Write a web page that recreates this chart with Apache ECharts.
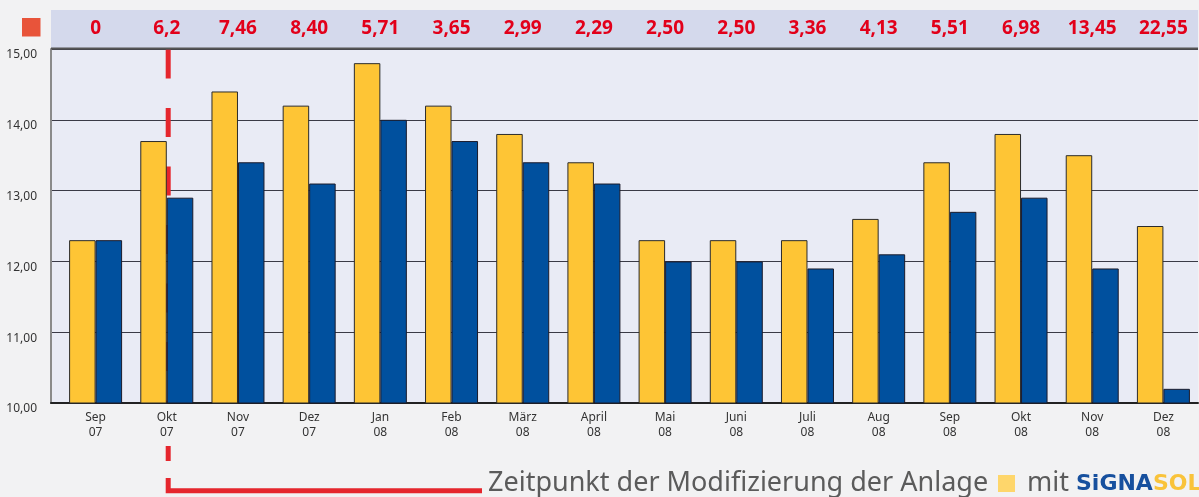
<!DOCTYPE html>
<html>
<head>
<meta charset="utf-8">
<script src="https://cdn.jsdelivr.net/npm/echarts@6/dist/echarts.min.js"></script>
<style>
html,body{margin:0;padding:0;background:#f2f2f3;}
#chart{width:1199px;height:497px;}
</style>
</head>
<body>
<div id="chart"></div>
<script>
const months = ['Sep','Okt','Nov','Dez','Jan','Feb','März','April','Mai','Juni','Juli','Aug','Sep','Okt','Nov','Dez'];
const years = ['07','07','07','07','08','08','08','08','08','08','08','08','08','08','08','08'];
const yellowValues = [12.3,13.7,14.4,14.2,14.8,14.2,13.8,13.4,12.3,12.3,12.3,12.6,13.4,13.8,13.5,12.5];
const blueValues = [12.3,12.9,13.4,13.1,14.0,13.7,13.4,13.1,12.0,12.0,11.9,12.1,12.7,12.9,11.9,10.2];
const topValues = ['0','6,2','7,46','8,40','5,71','3,65','2,99','2,29','2,50','2,50','3,36','4,13','5,51','6,98','13,45','22,55'];
const yMin = 10, yMax = 15, yStep = 1;
const legendText = 'Zeitpunkt der Modifizierung der Anlage';
const legendMit = 'mit';
const logoA = 'SiGNA', logoB = 'SOL';

const idx = months.map((m, i) => String(i));
const chart = echarts.init(document.getElementById('chart'), null, {renderer: 'canvas'});
const RED = '#e5262d';
const FONT = '"Noto Sans", "Open Sans", sans-serif';

chart.setOption({
  backgroundColor: '#f2f2f3',
  animation: false,
  grid: [
    {left: 51, right: 1, top: 49, bottom: 94, show: true, backgroundColor: '#e9ebf5', borderWidth: 0},
    {left: 60, right: 0, top: 49, bottom: 94}
  ],
  xAxis: [
    {type: 'category', gridIndex: 0, data: idx, boundaryGap: true,
     axisLine: {show: true, lineStyle: {color: '#222', width: 2}},
     axisTick: {show: false}, axisLabel: {show: false}, splitLine: {show: false}},
    {type: 'category', gridIndex: 1, data: idx, position: 'bottom',
     axisLine: {show: false}, axisTick: {show: false},
     axisLabel: {show: true, interval: 0, margin: 7, color: '#333', fontSize: 12, lineHeight: 15,
       fontFamily: FONT, formatter: (v, i) => months[i] + '\n' + years[i]}},
    {type: 'category', gridIndex: 1, data: idx, position: 'top',
     axisLine: {show: false}, axisTick: {show: false},
     axisLabel: {show: true, interval: 0, margin: 20, verticalAlign: 'middle', color: '#e2001a', fontSize: 19,
       fontWeight: 'bold', fontFamily: FONT, formatter: (v, i) => topValues[i]}}
  ],
  yAxis: [
    {type: 'value', gridIndex: 0, min: yMin, max: yMax, interval: yStep,
     axisLine: {show: true, lineStyle: {color: '#8a8a8a', width: 2}},
     axisTick: {show: false},
     splitLine: {show: true, lineStyle: {color: '#3a3a46', width: 1.2}},
     axisLabel: {color: '#333', fontSize: 12, fontFamily: FONT, margin: 14, verticalAlign: 'top', lineHeight: 12,
       formatter: v => v.toFixed(2).replace('.', ',')}},
    {type: 'value', gridIndex: 1, min: yMin, max: yMax, interval: yStep, show: false}
  ],
  series: [
    {type: 'bar', xAxisIndex: 1, yAxisIndex: 1, data: yellowValues, barWidth: 26.5, barGap: '0%', z: 3,
     itemStyle: {color: '#fec535', borderColor: '#2b2b2b', borderWidth: 1}},
    {type: 'bar', xAxisIndex: 1, yAxisIndex: 1, data: blueValues, barWidth: 26.5, barGap: '0%', z: 3,
     itemStyle: {color: '#00509e', borderColor: '#1b1b2b', borderWidth: 1}}
  ],
  graphic: [
    {type: 'rect', z: 0, shape: {x: 51, y: 10, width: 1147, height: 38}, style: {fill: '#d4d9ec'}},
    {type: 'line', z: 5, shape: {x1: 51, y1: 48.5, x2: 1198, y2: 48.5}, style: {stroke: '#555', lineWidth: 2}},
    {type: 'rect', z: 5, shape: {x: 22, y: 18, width: 18.5, height: 18.5}, style: {fill: '#e8543a'}},
    {type: 'line', z: 2, shape: {x1: 168.2, y1: 49.5, x2: 168.2, y2: 402}, style: {stroke: RED, lineWidth: 5, lineDash: [29, 29.5]}},
    {type: 'rect', z: 2, shape: {x: 165.7, y: 446, width: 5, height: 15}, style: {fill: RED}},
    {type: 'polyline', z: 2, shape: {points: [[168.2, 478], [168.2, 490.8], [482, 490.8]]}, style: {stroke: RED, lineWidth: 5, fill: null}},
    {type: 'text', z: 5, x: 488, y: 483, style: {text: legendText, fill: '#5b5b5b', font: '27px ' + FONT, verticalAlign: 'middle', align: 'left'}},
    {type: 'rect', z: 5, shape: {x: 998, y: 475, width: 17, height: 17}, style: {fill: '#fed66b'}},
    {type: 'text', z: 5, x: 1027, y: 483, style: {text: legendMit, fill: '#5b5b5b', font: '27px ' + FONT, verticalAlign: 'middle', align: 'left'}},
    {type: 'text', z: 5, x: 1076, y: 484, style: {
      text: '{a|' + logoA + '}{b|' + logoB + '}', verticalAlign: 'middle', align: 'left',
      rich: {a: {fill: '#17509e', fontFamily: '"DejaVu Sans", sans-serif', fontWeight: 'bold', fontSize: 22},
             b: {fill: '#f9c33a', fontFamily: '"DejaVu Sans", sans-serif', fontWeight: 'bold', fontSize: 22}}}}
  ]
});
</script>
</body>
</html>
